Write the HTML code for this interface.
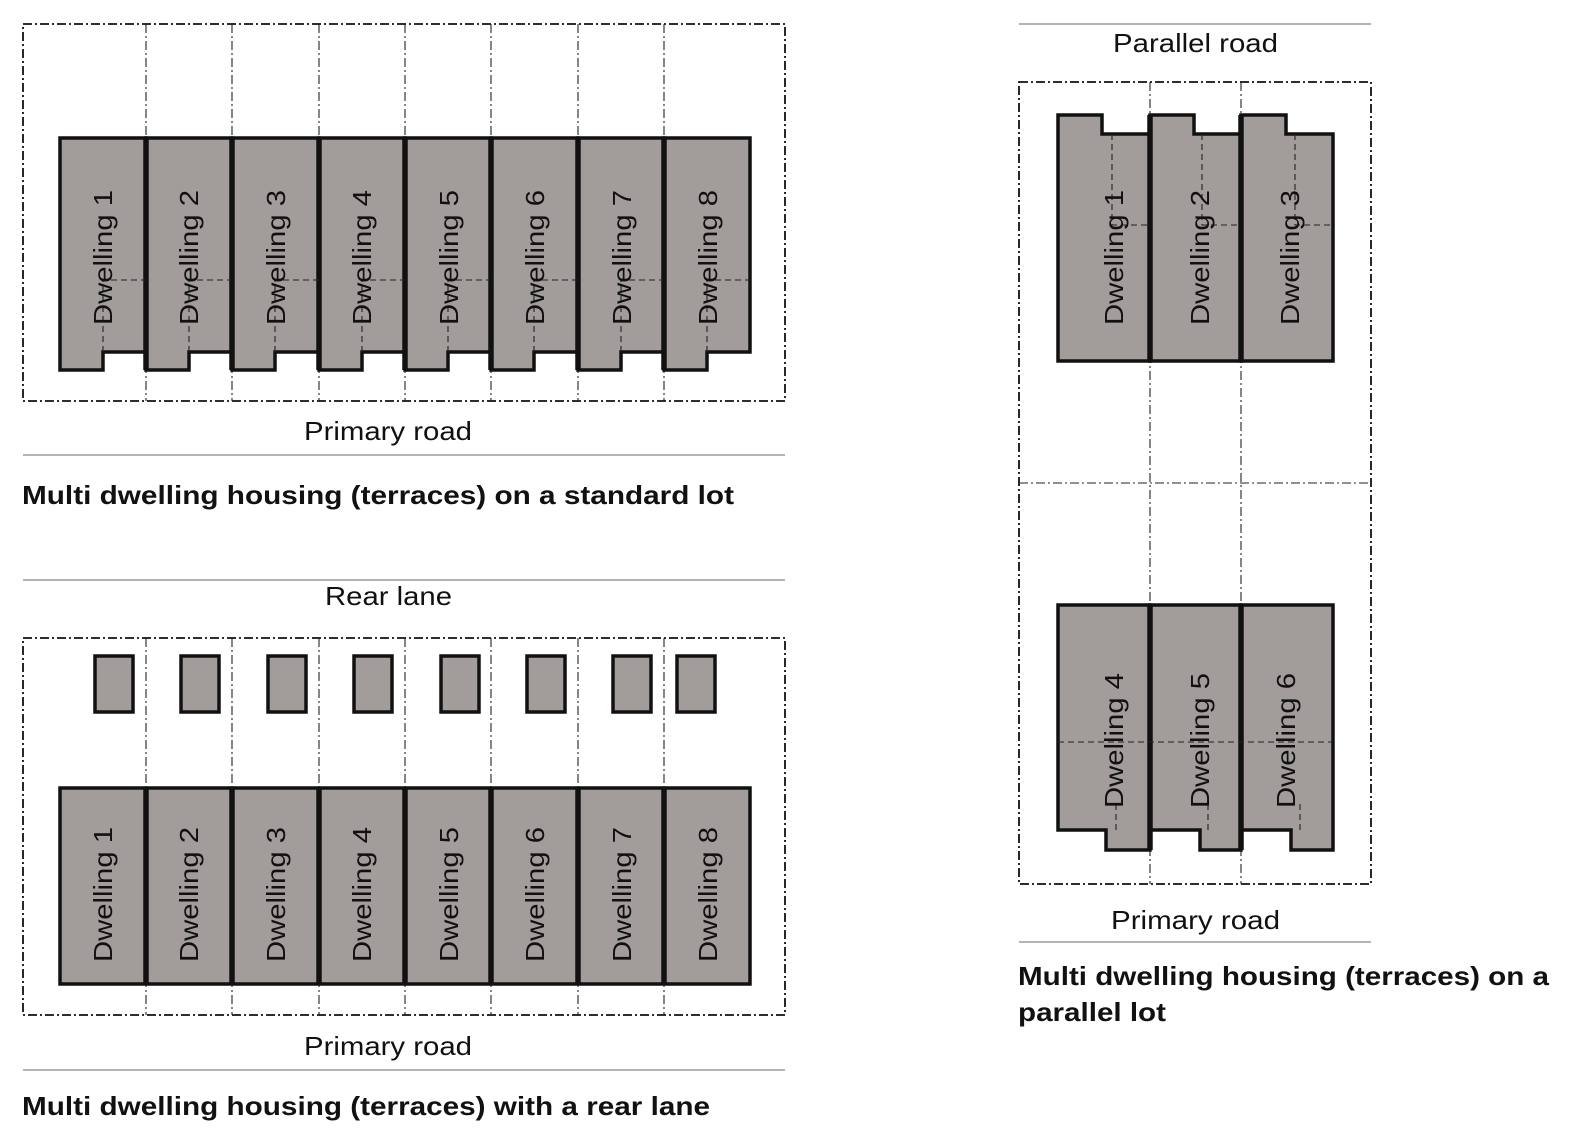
<!DOCTYPE html>
<html><head><meta charset="utf-8"><style>html,body{margin:0;padding:0;background:#fff;overflow:hidden;width:1581px;height:1143px}svg{display:block}</style></head>
<body>
<svg width="1581" height="1143" viewBox="0 0 1581 1143" xmlns="http://www.w3.org/2000/svg" font-family="Liberation Sans, sans-serif">
<defs>
<style>
.lot{fill:none;stroke:#111;stroke-width:1.8;stroke-dasharray:9 3 2 3}
.div{fill:none;stroke:#222;stroke-width:1.1;stroke-dasharray:9 3 2 3}
.dw{fill:#a29d9b;stroke:#111;stroke-width:3.5;stroke-linejoin:miter}
.thk{stroke:#111;stroke-width:5.5}
.dsh{fill:none;stroke:#222;stroke-width:1.1;stroke-dasharray:6 4}
.road{stroke:#888;stroke-width:1.3}
.lbl{font-size:26px;fill:#111}
.cap{font-size:26px;font-weight:bold;fill:#111}
.dt{font-size:26px;fill:#111}
</style>
</defs>

<!-- ===== Top-left: standard lot ===== -->
<rect class="lot" x="23" y="24" width="762" height="377"/>
<g class="div">
<line x1="146" y1="24" x2="146" y2="401"/><line x1="232" y1="24" x2="232" y2="401"/>
<line x1="319" y1="24" x2="319" y2="401"/><line x1="405" y1="24" x2="405" y2="401"/>
<line x1="491" y1="24" x2="491" y2="401"/><line x1="578" y1="24" x2="578" y2="401"/>
<line x1="664" y1="24" x2="664" y2="401"/>
</g>
<g class="dw">
<path d="M60 138H146V352H103V370H60Z"/>
<path d="M146 138H232V352H189V370H146Z"/>
<path d="M232 138H319V352H275V370H232Z"/>
<path d="M319 138H405V352H362V370H319Z"/>
<path d="M405 138H491V352H448V370H405Z"/>
<path d="M491 138H578V352H534V370H491Z"/>
<path d="M578 138H664V352H621V370H578Z"/>
<path d="M664 138H750V352H707V370H664Z"/>
</g>
<g class="thk">
<line x1="146" y1="138" x2="146" y2="370"/><line x1="232" y1="138" x2="232" y2="370"/>
<line x1="319" y1="138" x2="319" y2="370"/><line x1="405" y1="138" x2="405" y2="370"/>
<line x1="491" y1="138" x2="491" y2="370"/><line x1="578" y1="138" x2="578" y2="370"/>
<line x1="664" y1="138" x2="664" y2="370"/>
</g>
<g class="dsh">
<path d="M103 352V280H146"/><path d="M189 352V280H232"/><path d="M275 352V280H319"/><path d="M362 352V280H405"/>
<path d="M448 352V280H491"/><path d="M534 352V280H578"/><path d="M621 352V280H664"/><path d="M707 352V280H750"/>
</g>
<g class="dt">
<text transform="translate(112,325) rotate(-90)" textLength="135" lengthAdjust="spacingAndGlyphs">Dwelling 1</text>
<text transform="translate(198,325) rotate(-90)" textLength="135" lengthAdjust="spacingAndGlyphs">Dwelling 2</text>
<text transform="translate(285,325) rotate(-90)" textLength="135" lengthAdjust="spacingAndGlyphs">Dwelling 3</text>
<text transform="translate(371,325) rotate(-90)" textLength="135" lengthAdjust="spacingAndGlyphs">Dwelling 4</text>
<text transform="translate(458,325) rotate(-90)" textLength="135" lengthAdjust="spacingAndGlyphs">Dwelling 5</text>
<text transform="translate(544,325) rotate(-90)" textLength="135" lengthAdjust="spacingAndGlyphs">Dwelling 6</text>
<text transform="translate(631,325) rotate(-90)" textLength="135" lengthAdjust="spacingAndGlyphs">Dwelling 7</text>
<text transform="translate(717,325) rotate(-90)" textLength="135" lengthAdjust="spacingAndGlyphs">Dwelling 8</text>
</g>
<text class="lbl" x="304" y="440" textLength="168" lengthAdjust="spacingAndGlyphs">Primary road</text>
<line class="road" x1="23" y1="455" x2="785" y2="455"/>
<text class="cap" x="22" y="504" textLength="712" lengthAdjust="spacingAndGlyphs">Multi dwelling housing (terraces) on a standard lot</text>

<!-- ===== Bottom-left: rear lane ===== -->
<line class="road" x1="23" y1="580" x2="785" y2="580"/>
<text class="lbl" x="325" y="605" textLength="127" lengthAdjust="spacingAndGlyphs">Rear lane</text>
<rect class="lot" x="23" y="638" width="762" height="377"/>
<g class="div">
<line x1="146" y1="638" x2="146" y2="1015"/><line x1="232" y1="638" x2="232" y2="1015"/>
<line x1="319" y1="638" x2="319" y2="1015"/><line x1="405" y1="638" x2="405" y2="1015"/>
<line x1="491" y1="638" x2="491" y2="1015"/><line x1="578" y1="638" x2="578" y2="1015"/>
<line x1="664" y1="638" x2="664" y2="1015"/>
</g>
<g class="dw">
<rect x="95" y="656" width="38" height="56"/><rect x="181" y="656" width="38" height="56"/>
<rect x="268" y="656" width="38" height="56"/><rect x="354" y="656" width="38" height="56"/>
<rect x="441" y="656" width="38" height="56"/><rect x="527" y="656" width="38" height="56"/>
<rect x="613" y="656" width="38" height="56"/><rect x="677" y="656" width="38" height="56"/>
<rect x="60" y="788" width="690" height="196"/>
</g>
<g class="thk">
<line x1="146" y1="788" x2="146" y2="984"/><line x1="232" y1="788" x2="232" y2="984"/>
<line x1="319" y1="788" x2="319" y2="984"/><line x1="405" y1="788" x2="405" y2="984"/>
<line x1="491" y1="788" x2="491" y2="984"/><line x1="578" y1="788" x2="578" y2="984"/>
<line x1="664" y1="788" x2="664" y2="984"/>
</g>
<g class="dt">
<text transform="translate(112,962) rotate(-90)" textLength="135" lengthAdjust="spacingAndGlyphs">Dwelling 1</text>
<text transform="translate(198,962) rotate(-90)" textLength="135" lengthAdjust="spacingAndGlyphs">Dwelling 2</text>
<text transform="translate(285,962) rotate(-90)" textLength="135" lengthAdjust="spacingAndGlyphs">Dwelling 3</text>
<text transform="translate(371,962) rotate(-90)" textLength="135" lengthAdjust="spacingAndGlyphs">Dwelling 4</text>
<text transform="translate(458,962) rotate(-90)" textLength="135" lengthAdjust="spacingAndGlyphs">Dwelling 5</text>
<text transform="translate(544,962) rotate(-90)" textLength="135" lengthAdjust="spacingAndGlyphs">Dwelling 6</text>
<text transform="translate(631,962) rotate(-90)" textLength="135" lengthAdjust="spacingAndGlyphs">Dwelling 7</text>
<text transform="translate(717,962) rotate(-90)" textLength="135" lengthAdjust="spacingAndGlyphs">Dwelling 8</text>
</g>
<text class="lbl" x="304" y="1055" textLength="168" lengthAdjust="spacingAndGlyphs">Primary road</text>
<line class="road" x1="23" y1="1070" x2="785" y2="1070"/>
<text class="cap" x="22" y="1115" textLength="688" lengthAdjust="spacingAndGlyphs">Multi dwelling housing (terraces) with a rear lane</text>

<!-- ===== Right: parallel lot ===== -->
<line class="road" x1="1019" y1="24" x2="1371" y2="24"/>
<text class="lbl" x="1113" y="52" textLength="165" lengthAdjust="spacingAndGlyphs">Parallel road</text>
<rect class="lot" x="1019" y="82" width="352" height="802"/>
<g class="div">
<line x1="1150" y1="82" x2="1150" y2="884"/><line x1="1241" y1="82" x2="1241" y2="884"/>
<line x1="1019" y1="483" x2="1371" y2="483"/>
</g>
<g class="dw">
<path d="M1058 115H1102V134H1150V361H1058Z"/>
<path d="M1150 115H1194V134H1241V361H1150Z"/>
<path d="M1241 115H1286V134H1333V361H1241Z"/>
<path d="M1058 605H1150V850H1106V830H1058Z"/>
<path d="M1150 605H1241V850H1200V830H1150Z"/>
<path d="M1241 605H1333V850H1291V830H1241Z"/>
</g>
<g class="thk">
<line x1="1150" y1="115" x2="1150" y2="361"/><line x1="1241" y1="115" x2="1241" y2="361"/>
<line x1="1150" y1="605" x2="1150" y2="850"/><line x1="1241" y1="605" x2="1241" y2="850"/>
</g>
<g class="dsh">
<path d="M1112 134V225H1150"/><path d="M1202 134V225H1241"/><path d="M1295 134V225H1333"/>
<path d="M1058 742H1333"/>
<path d="M1116 830V800"/><path d="M1208 830V800"/><path d="M1300 830V800"/>
</g>
<g class="dt">
<text transform="translate(1123,325) rotate(-90)" textLength="135" lengthAdjust="spacingAndGlyphs">Dwelling 1</text>
<text transform="translate(1209,325) rotate(-90)" textLength="135" lengthAdjust="spacingAndGlyphs">Dwelling 2</text>
<text transform="translate(1299,325) rotate(-90)" textLength="135" lengthAdjust="spacingAndGlyphs">Dwelling 3</text>
<text transform="translate(1123,808) rotate(-90)" textLength="135" lengthAdjust="spacingAndGlyphs">Dwelling 4</text>
<text transform="translate(1209,808) rotate(-90)" textLength="135" lengthAdjust="spacingAndGlyphs">Dwelling 5</text>
<text transform="translate(1295,808) rotate(-90)" textLength="135" lengthAdjust="spacingAndGlyphs">Dwelling 6</text>
</g>
<text class="lbl" x="1111" y="929" textLength="169" lengthAdjust="spacingAndGlyphs">Primary road</text>
<line class="road" x1="1019" y1="942" x2="1371" y2="942"/>
<text class="cap" x="1018" y="985" textLength="531" lengthAdjust="spacingAndGlyphs">Multi dwelling housing (terraces) on a</text>
<text class="cap" x="1018" y="1021" textLength="148" lengthAdjust="spacingAndGlyphs">parallel lot</text>
</svg>
</body></html>
